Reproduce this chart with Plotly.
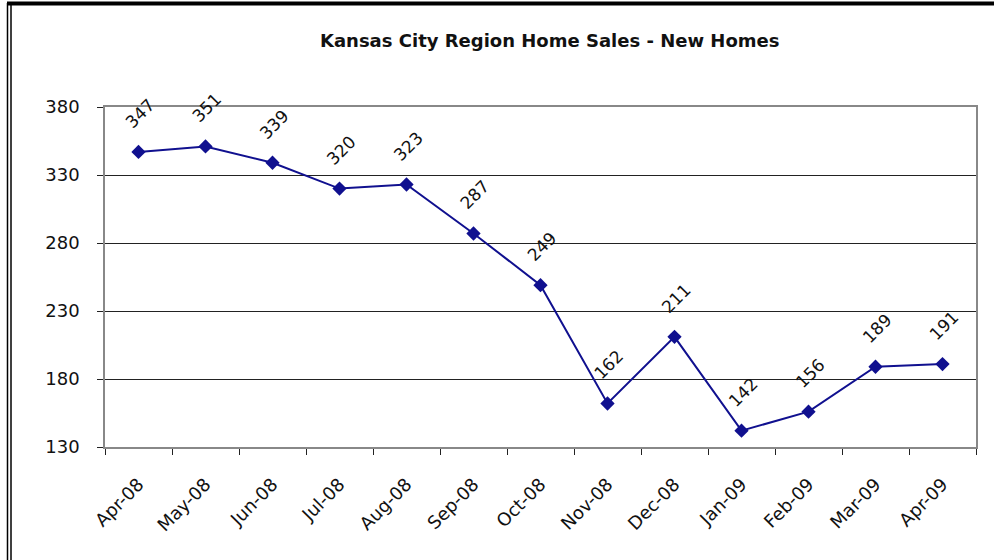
import plotly.graph_objects as go

months = ["Apr-08", "May-08", "Jun-08", "Jul-08", "Aug-08", "Sep-08", "Oct-08",
          "Nov-08", "Dec-08", "Jan-09", "Feb-09", "Mar-09", "Apr-09"]
sales = [347, 351, 339, 320, 323, 287, 249, 162, 211, 142, 156, 189, 191]
y_ticks = [130, 180, 230, 280, 330, 380]
title_text = "Kansas City Region Home Sales - New Homes"

FONT = "DejaVu Sans, Verdana, sans-serif"
W, H = 994, 560
L, R, T, B = 105, 18, 107, 113
pw, ph = W - L - R, H - T - B

def px(x):
    return (x - L) / pw

def py(y):
    return (H - B - y) / ph

fig = go.Figure()
fig.add_trace(go.Scatter(
    x=months, y=sales, mode="lines+markers",
    line=dict(color="#10108f", width=2),
    marker=dict(symbol="diamond", size=11, color="#10108f"),
    showlegend=False, cliponaxis=False, hoverinfo="skip",
))

for m, v in zip(months, sales):
    fig.add_annotation(x=m, y=v, text=str(v), showarrow=False, textangle=-45,
                       xshift=1, yshift=38,
                       font=dict(family=FONT, size=17, color="#111"))

fig.add_annotation(text="<b>" + title_text + "</b>", xref="paper", yref="paper",
                   x=px(549), y=py(40), showarrow=False, xanchor="center", yanchor="middle",
                   font=dict(family=FONT, size=18, color="#111"))

# outer frame lines
fig.add_shape(type="line", xref="paper", yref="paper", x0=px(7), x1=px(994), y0=py(3.5), y1=py(3.5),
              line=dict(color="black", width=4))
fig.add_shape(type="line", xref="paper", yref="paper", x0=px(7.5), x1=px(7.5), y0=py(3), y1=py(560),
              line=dict(color="black", width=1.5))
fig.add_shape(type="line", xref="paper", yref="paper", x0=px(11), x1=px(11), y0=py(5), y1=py(560),
              line=dict(color="black", width=1.5))

fig.update_layout(
    width=W, height=H,
    margin=dict(l=L, r=R, t=T, b=B),
    paper_bgcolor="white", plot_bgcolor="white",
    font=dict(family=FONT, color="#111"),
    xaxis=dict(type="category", range=[-0.5, len(months) - 0.5], tickson="boundaries",
               ticks="outside", ticklen=6, tickcolor="#222", tickangle=-45,
               showgrid=False, showline=True, linecolor="#888", linewidth=1.5, mirror=True,
               tickfont=dict(size=18, family=FONT, color="#111"),
               ticklabelstandoff=18),
    yaxis=dict(range=[130, 380], tickvals=y_ticks, ticks="outside", ticklen=6, tickcolor="#222",
               showgrid=True, gridcolor="#222", gridwidth=1,
               showline=True, linecolor="#888", linewidth=1.5, mirror=True,
               tickfont=dict(size=18, family=FONT, color="#111"),
               ticklabelstandoff=14, zeroline=False),
)

fig.write_html("out.html", config={"displayModeBar": False},
               post_script="document.body.style.margin='0';")
